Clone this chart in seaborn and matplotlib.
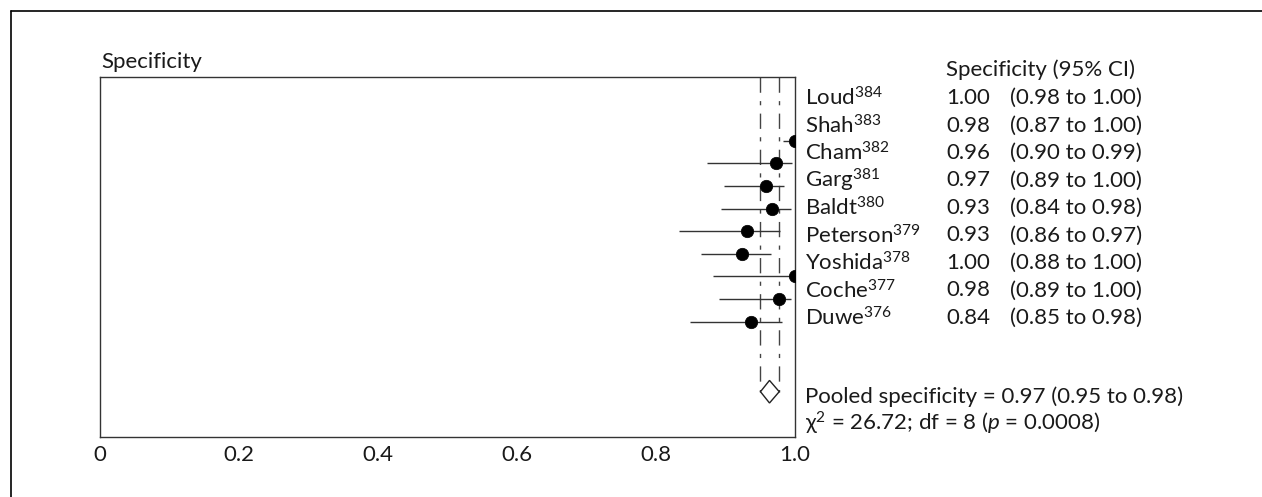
import numpy as np
import pandas as pd
import matplotlib
matplotlib.use("Agg")
import matplotlib.pyplot as plt
from matplotlib.lines import Line2D
from matplotlib.patches import Polygon
import seaborn as sns

# ---- data ----
studies = ["Loud", "Shah", "Cham", "Garg", "Baldt", "Peterson", "Yoshida", "Coche", "Duwe"]
refs = ["384", "383", "382", "381", "380", "379", "378", "377", "376"]
table_est = ["1.00", "0.98", "0.96", "0.97", "0.93", "0.93", "1.00", "0.98", "0.84"]
table_ci = ["(0.98 to 1.00)", "(0.87 to 1.00)", "(0.90 to 0.99)", "(0.89 to 1.00)",
            "(0.84 to 0.98)", "(0.86 to 0.97)", "(0.88 to 1.00)", "(0.89 to 1.00)",
            "(0.85 to 0.98)"]
est = [1.00, 0.974, 0.959, 0.968, 0.931, 0.924, 1.00, 0.977, 0.937]
lo = [0.983, 0.874, 0.898, 0.894, 0.834, 0.865, 0.883, 0.891, 0.849]
hi = [1.00, 0.997, 0.985, 0.995, 0.979, 0.966, 1.00, 0.995, 0.982]
pooled_est, pooled_lo, pooled_hi = 0.964, 0.951, 0.978
xticks = [0, 0.2, 0.4, 0.6, 0.8, 1.0]
xticklabels = ["0", "0.2", "0.4", "0.6", "0.8", "1.0"]

sns.set_theme(style="white")
plt.rcParams["font.family"] = ["Lato", "DejaVu Sans"]
plt.rcParams["mathtext.fontset"] = "custom"
plt.rcParams["mathtext.rm"] = "Lato"
plt.rcParams["mathtext.it"] = "Lato:italic"
plt.rcParams["mathtext.bf"] = "Lato:bold"

W, H = 1262, 497
fig = plt.figure(figsize=(W / 100, H / 100), dpi=100)

def fx(px):
    return px / W

def fy(py):
    return 1 - py / H

ax_left, ax_right, ax_top, ax_bot = 100, 794.5, 77, 436.5
ax = fig.add_axes([fx(ax_left), fy(ax_bot), fx(ax_right - ax_left), (ax_bot - ax_top) / H])

row0, step = 140.7, 22.6
rows = np.arange(len(studies))
df = pd.DataFrame({"study": studies, "est": est, "lo": lo, "hi": hi, "row": rows})

line_col = "#333333"
ax.hlines(df["row"], df["lo"], df["hi"], color=line_col, lw=1.0, zorder=2)
sns.scatterplot(data=df, x="est", y="row", color="black", s=80, edgecolor="black",
                linewidth=0.5, ax=ax, zorder=3, legend=False)

y_top = (ax_top - row0) / step
y_bot = (ax_bot - row0) / step
y_pool = (391.7 - row0) / step
dh = 0.5

for xv in (pooled_lo, pooled_hi):
    ax.plot([xv, xv], [y_top, y_pool], color="#444444", lw=1.0,
            linestyle=(0, (11, 6, 3, 6)), zorder=1)

diamond = Polygon([[pooled_lo, y_pool], [pooled_est, y_pool - dh],
                   [pooled_hi, y_pool], [pooled_est, y_pool + dh]],
                  closed=True, facecolor="white", edgecolor="#222222", lw=1.0, zorder=3)
ax.add_patch(diamond)

fs = 16
tc = "#1a1a1a"

ax.set_xlim(0, 1.0)
ax.set_ylim(y_bot, y_top)
ax.set_xticks(xticks)
ax.set_xticklabels(xticklabels, fontsize=fs, color=tc)
ax.set_yticks([])
ax.set_xlabel("")
ax.set_ylabel("")
ax.tick_params(axis="x", length=0, pad=6)
for s in ax.spines.values():
    s.set_visible(True)
    s.set_color("#333333")
    s.set_linewidth(1.0)

fig.text(fx(101), fy(62), "Specificity", fontsize=fs, color=tc, va="center", ha="left")
fig.text(fx(946), fy(70), "Specificity (95% CI)", fontsize=fs, color=tc, va="center", ha="left")

lab0, lstep = 98, 27.5
for i, (nm, rf, e, c) in enumerate(zip(studies, refs, table_est, table_ci)):
    yy = fy(lab0 + lstep * i)
    fig.text(fx(805), yy, nm + r"$^{\mathrm{" + rf + "}}$", fontsize=fs, color=tc,
             va="center", ha="left")
    fig.text(fx(946), yy, e, fontsize=fs, color=tc, va="center", ha="left")
    fig.text(fx(1010), yy, c, fontsize=fs, color=tc, va="center", ha="left")

fig.text(fx(805), fy(397), "Pooled specificity = 0.97 (0.95 to 0.98)", fontsize=fs,
         color=tc, va="center", ha="left")
fig.text(fx(805), fy(423), "χ$^{2}$ = 26.72; df = 8 ($p$ = 0.0008)", fontsize=fs,
         color=tc, va="center", ha="left")

# outer frame (top and left)
fig.add_artist(Line2D([fx(11), 1.0], [fy(10.5), fy(10.5)], color="black", lw=1.2))
fig.add_artist(Line2D([fx(11), fx(11)], [fy(10.5), 0.0], color="black", lw=1.2))

fig.savefig("out.png", dpi=100)
